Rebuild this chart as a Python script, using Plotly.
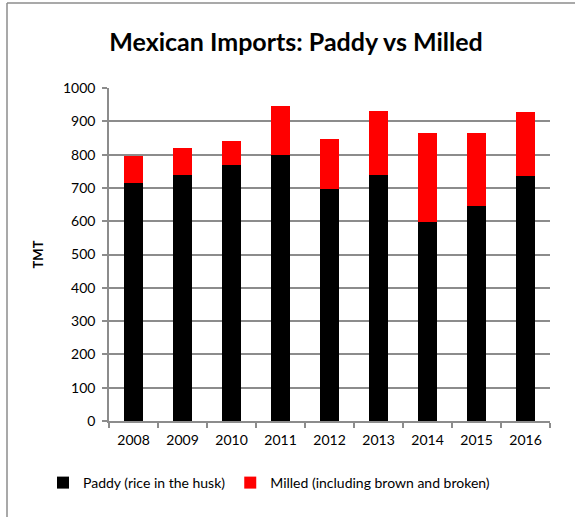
import plotly.graph_objects as go

years = ["2008", "2009", "2010", "2011", "2012", "2013", "2014", "2015", "2016"]
paddy = [716, 738, 770, 798, 698, 738, 597, 646, 735]
milled = [81, 83, 71, 147, 150, 193, 268, 220, 194]

FONT = "Lato"
GRID = "#8c8c8c"
L, R, T, B = 109, 25, 88, 96
PW, PH = 575 - L - R, 517 - T - B

fig = go.Figure()
fig.add_trace(go.Bar(x=years, y=paddy, name="Paddy (rice in the husk)",
                     marker=dict(color="#000000", line=dict(width=0))))
fig.add_trace(go.Bar(x=years, y=milled, name="Milled (including brown and broken)",
                     marker=dict(color="#ff0000", line=dict(width=0))))

fig.update_layout(
    barmode="stack",
    bargap=0.61,
    width=575, height=517,
    paper_bgcolor="white", plot_bgcolor="white",
    margin=dict(l=L, r=R, t=T, b=B, autoexpand=False),
    font=dict(family=FONT, color="#000000", size=14),
    title=dict(text="<b>Mexican Imports: Paddy vs Milled</b>",
               x=296 / 575, xanchor="center", y=1 - 42 / 517, yanchor="middle",
               font=dict(family=FONT, size=25, color="#000000")),
    legend=dict(orientation="h", xref="paper", yref="paper",
                x=(43 - L) / PW, xanchor="left",
                y=-(483 - 421) / PH, yanchor="middle",
                font=dict(family=FONT, size=14), traceorder="normal",
                itemwidth=30),
    showlegend=True,
    xaxis=dict(type="category", showline=True, linecolor=GRID, linewidth=1.5,
               ticks="outside", tickson="boundaries", ticklen=5, tickcolor=GRID,
               tickwidth=1.5, showgrid=False, tickfont=dict(size=14),
               ticklabelstandoff=5),
    yaxis=dict(range=[0, 1000], dtick=100, showline=True, linecolor=GRID, linewidth=1.5,
               ticks="outside", ticklen=5, tickcolor=GRID, tickwidth=1.5,
               showgrid=True, gridcolor=GRID, gridwidth=1.5, zeroline=False,
               tickfont=dict(size=14), ticklabelstandoff=4,
               title=dict(text="<b>TMT</b>", font=dict(size=13), standoff=16)),
    shapes=[
        dict(type="line", xref="paper", yref="paper", x0=(7 - L) / PW, x1=1.2,
             y0=1 + (T - 3) / PH, y1=1 + (T - 3) / PH,
             line=dict(color="#8c8c8c", width=1.5)),
        dict(type="line", xref="paper", yref="paper", x0=(7 - L) / PW, x1=(7 - L) / PW,
             y0=1 + (T - 3) / PH, y1=-0.4,
             line=dict(color="#8c8c8c", width=1.5)),
    ],
)

fig.write_html("out.html", config={"displayModeBar": False},
               post_script="document.body.style.margin='0';")
